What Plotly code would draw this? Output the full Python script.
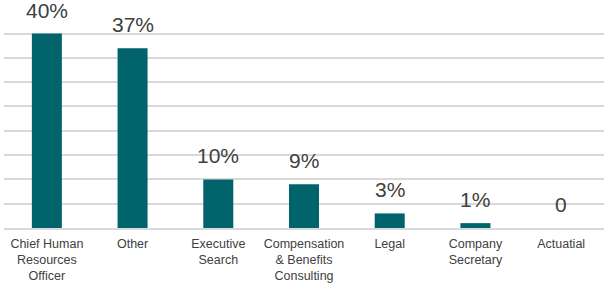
import plotly.graph_objects as go

categories = ["Chief Human<br>Resources<br>Officer", "Other", "Executive<br>Search",
              "Compensation<br>& Benefits<br>Consulting", "Legal", "Company<br>Secretary", "Actuatial"]
values = [40, 37, 10, 9, 3, 1, 0]
value_labels = ["40%", "37%", "10%", "9%", "3%", "1%", "0"]

fig = go.Figure()
fig.add_trace(go.Bar(x=categories, y=values, marker_color="#01646c", width=0.35,
                     marker_line_width=0))

for c, v, t in zip(categories, values, value_labels):
    fig.add_annotation(x=c, y=v, text=t, showarrow=False, yanchor="bottom", yshift=10,
                       font=dict(family="Liberation Sans, Arial", size=21, color="#404040"))

fig.update_layout(
    width=604, height=284,
    margin=dict(l=4, r=0, t=9, b=56, autoexpand=False),
    paper_bgcolor="white", plot_bgcolor="white",
    showlegend=False,
    font=dict(family="Liberation Sans, Arial", size=12.5, color="#404040"),
)
fig.update_yaxes(range=[0, 45.05], dtick=5, showticklabels=False, showgrid=True,
                 gridcolor="#d9d9d9", gridwidth=1.5, zeroline=False, showline=False,
                 automargin=False)
fig.update_xaxes(showline=True, linecolor="#d9d9d9", linewidth=1.5, ticks="",
                 tickfont=dict(size=12.5, color="#404040"), ticklabelstandoff=3,
                 automargin=False)

fig.write_html("out.html", config={"displayModeBar": False},
               post_script="document.body.style.margin='0';document.body.style.overflow='hidden';")
